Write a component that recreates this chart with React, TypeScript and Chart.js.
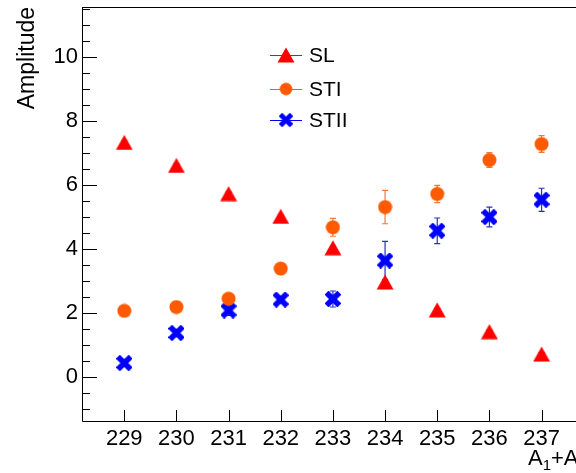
import React, { useEffect, useRef } from 'react';
import { Chart, registerables } from 'chart.js';

Chart.register(...registerables);

// ---- data ----
const categories = [229, 230, 231, 232, 233, 234, 235, 236, 237];
const seriesNames = ['SL', 'STI', 'STII'];
const slValues = [7.32, 6.6, 5.72, 5.01, 4.03, 2.96, 2.09, 1.41, 0.71];
const slErrors = [0.05, 0.05, 0.05, 0.05, 0.05, 0.05, 0.05, 0.05, 0.05];
const stiValues = [2.06, 2.18, 2.44, 3.38, 4.67, 5.3, 5.71, 6.77, 7.27];
const stiErrors = [0.08, 0.08, 0.1, 0.1, 0.28, 0.52, 0.27, 0.23, 0.26];
const stiiValues = [0.43, 1.37, 2.07, 2.41, 2.43, 3.63, 4.56, 4.99, 5.53];
const stiiErrors = [0.08, 0.1, 0.15, 0.1, 0.25, 0.6, 0.4, 0.31, 0.36];
const yTickValues = [0, 2, 4, 6, 8, 10];
const yAxisTitle = 'Amplitude';

const FONT = "'Liberation Sans', Arial, Helvetica, sans-serif";
const RED = '#ff0000';
const ORANGE = '#ff5a00';
const BLUE = '#0000ff';

function makeTriangle(): HTMLCanvasElement {
  const c = document.createElement('canvas');
  c.width = 18; c.height = 16;
  const g = c.getContext('2d')!;
  g.fillStyle = RED;
  g.beginPath();
  g.moveTo(9, 0.5);
  g.lineTo(17.5, 15.5);
  g.lineTo(0.5, 15.5);
  g.closePath();
  g.fill();
  return c;
}
function makeCircle(): HTMLCanvasElement {
  const c = document.createElement('canvas');
  c.width = 15; c.height = 15;
  const g = c.getContext('2d')!;
  g.fillStyle = ORANGE;
  g.beginPath();
  g.arc(7.5, 7.5, 7, 0, Math.PI * 2);
  g.fill();
  return c;
}
function makeCross(): HTMLCanvasElement {
  const c = document.createElement('canvas');
  c.width = 16; c.height = 16;
  const g = c.getContext('2d')!;
  g.fillStyle = BLUE;
  g.translate(8, 8);
  for (const a of [Math.PI / 4, -Math.PI / 4]) {
    g.save();
    g.rotate(a);
    g.fillRect(-9, -2.8, 18, 5.6);
    g.restore();
  }
  return c;
}

export default function App() {
  const ref = useRef<HTMLCanvasElement | null>(null);

  useEffect(() => {
    if (!ref.current) return;
    const tri = makeTriangle();
    const circ = makeCircle();
    const cross = makeCross();

    const series = [
      { name: seriesNames[0], values: slValues, errors: slErrors, color: RED, errColor: RED, marker: tri },
      { name: seriesNames[1], values: stiValues, errors: stiErrors, color: ORANGE, errColor: '#f07a3a', marker: circ },
      { name: seriesNames[2], values: stiiValues, errors: stiiErrors, color: BLUE, errColor: '#2a2ad0', marker: cross },
    ];

    const errorBars = {
      id: 'errorBars',
      beforeDatasetsDraw(chart: any) {
        const { ctx, scales } = chart;
        const xs = scales.x, ys = scales.y;
        ctx.save();
        series.forEach((s) => {
          ctx.strokeStyle = s.errColor;
          ctx.lineWidth = 1.2;
          s.values.forEach((v, i) => {
            const x = xs.getPixelForValue(categories[i]);
            const y1 = ys.getPixelForValue(v + s.errors[i]);
            const y2 = ys.getPixelForValue(v - s.errors[i]);
            ctx.beginPath();
            ctx.moveTo(x, y1); ctx.lineTo(x, y2);
            ctx.moveTo(x - 3, y1); ctx.lineTo(x + 3, y1);
            ctx.moveTo(x - 3, y2); ctx.lineTo(x + 3, y2);
            ctx.stroke();
          });
        });
        ctx.restore();
      },
    };

    const frame = {
      id: 'frame',
      afterDraw(chart: any) {
        const { ctx, chartArea, scales } = chart;
        const xs = scales.x, ys = scales.y;
        const { left, right, top, bottom } = chartArea;
        ctx.save();
        ctx.strokeStyle = '#000';
        ctx.lineWidth = 1;
        // frame
        ctx.beginPath();
        ctx.moveTo(left + 0.5, top + 0.5);
        ctx.lineTo(left + 0.5, bottom + 0.5);
        ctx.lineTo(right, bottom + 0.5);
        ctx.moveTo(left, top + 0.5);
        ctx.lineTo(right, top + 0.5);
        ctx.stroke();
        // y ticks (inside)
        ctx.beginPath();
        for (let v = Math.ceil(ys.min * 2) / 2; v <= ys.max; v += 0.5) {
          const y = Math.round(ys.getPixelForValue(v)) + 0.5;
          const len = Math.abs(v % 2) < 1e-6 ? 15 : 8;
          ctx.moveTo(left, y);
          ctx.lineTo(left + len, y);
        }
        // x ticks (inside)
        categories.forEach((c) => {
          const x = Math.round(xs.getPixelForValue(c)) + 0.5;
          ctx.moveTo(x, bottom);
          ctx.lineTo(x, bottom - 11);
        });
        ctx.stroke();

        // x axis title A1+A2
        ctx.fillStyle = '#000';
        ctx.textBaseline = 'alphabetic';
        ctx.textAlign = 'left';
        let x = 528;
        const base = 465;
        const parts: [string, number, number][] = [
          ['A', 22, 0], ['1', 15, 5], ['+', 22, 0], ['A', 22, 0], ['2', 15, 5],
        ];
        parts.forEach(([t, size, dy]) => {
          ctx.font = `${size}px ${FONT}`;
          ctx.fillText(t, x, base + dy);
          x += ctx.measureText(t).width;
        });

        // legend
        const rows = [55, 89, 120];
        series.forEach((s, i) => {
          const y = rows[i];
          ctx.strokeStyle = s.color;
          ctx.lineWidth = 1;
          ctx.beginPath();
          ctx.moveTo(270, y + 0.5);
          ctx.lineTo(302, y + 0.5);
          ctx.stroke();
          const sc = i === 0 ? 1 : 0.88;
          const w = s.marker.width * sc, h = s.marker.height * sc;
          ctx.drawImage(s.marker, 286 - w / 2, y - h / 2, w, h);
          ctx.fillStyle = '#000';
          ctx.font = `21px ${FONT}`;
          ctx.textBaseline = 'middle';
          ctx.fillText(s.name, 309, y + 1);
        });
        ctx.restore();
      },
    };

    const chart = new Chart(ref.current, {
      type: 'scatter',
      data: {
        datasets: series.map((s) => ({
          label: s.name,
          data: s.values.map((v, i) => ({ x: categories[i], y: v })),
          pointStyle: s.marker as any,
          backgroundColor: s.color,
          borderColor: s.color,
          showLine: false,
        })),
      },
      options: {
        animation: false,
        responsive: true,
        maintainAspectRatio: false,
        layout: { autoPadding: false, padding: { top: 7, right: 0, left: 0, bottom: 0 } },
        plugins: { legend: { display: false }, tooltip: { enabled: false } },
        scales: {
          x: {
            type: 'linear',
            min: 228.19,
            max: 237.66,
            grid: { display: false, drawTicks: false },
            border: { display: false },
            ticks: {
              stepSize: 1,
              includeBounds: false,
              autoSkip: false,
              maxRotation: 0,
              padding: 5,
              color: '#000',
              font: { family: FONT, size: 22 },
              callback: (v: any) => (categories.includes(Number(v)) ? String(v) : ''),
            },
            afterFit: (s: any) => {
              s.height = 52;
              s.paddingLeft = 0; s.paddingRight = 0; s.paddingTop = 0; s.paddingBottom = 0;
            },
          },
          y: {
            type: 'linear',
            min: -1.38,
            max: 11.55,
            grid: { display: false, drawTicks: false },
            border: { display: false },
            afterBuildTicks: (s: any) => { s.ticks = yTickValues.map((v) => ({ value: v })); },
            ticks: {
              padding: 4,
              color: '#000',
              font: { family: FONT, size: 22 },
            },
            title: {
              display: true,
              text: yAxisTitle,
              align: 'end',
              color: '#000',
              font: { family: FONT, size: 23 },
              padding: { top: 14, bottom: 0 },
            },
            afterFit: (s: any) => {
              s.width = 82;
              s.paddingLeft = 0; s.paddingRight = 0; s.paddingTop = 0; s.paddingBottom = 0;
            },
          },
        },
      } as any,
      plugins: [errorBars, frame],
    });
    return () => chart.destroy();
  }, []);

  return (
    <div style={{ position: 'fixed', left: 0, top: 0, width: 576, height: 473, background: '#fff' }}>
      <canvas ref={ref} />
    </div>
  );
}
